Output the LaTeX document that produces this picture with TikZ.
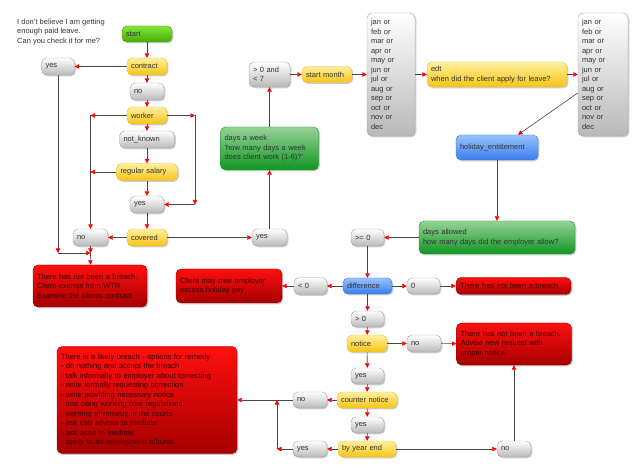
\documentclass[tikz,border=0pt]{standalone}
\usepackage{fontspec}
\setmainfont{Liberation Sans}
\usetikzlibrary{arrows.meta,shadows}
\definecolor{linegrey}{RGB}{70,70,70}
\definecolor{greyedge}{RGB}{165,165,165}
\definecolor{greylow}{RGB}{185,185,185}
\definecolor{amberedge}{RGB}{240,190,60}
\definecolor{ambertop}{RGB}{255,240,160}
\definecolor{amberlow}{RGB}{246,196,20}
\definecolor{limeedge}{RGB}{60,150,0}
\definecolor{limetop}{RGB}{130,230,60}
\definecolor{limelow}{RGB}{70,175,0}
\definecolor{leafedge}{RGB}{20,150,40}
\definecolor{leaftop}{RGB}{150,210,150}
\definecolor{leaflow}{RGB}{15,150,35}
\definecolor{skyedge}{RGB}{50,110,230}
\definecolor{skytop}{RGB}{150,195,255}
\definecolor{skylow}{RGB}{60,125,235}
\definecolor{alarmedge}{RGB}{150,0,0}
\definecolor{alarmtop}{RGB}{255,15,15}
\definecolor{alarmlow}{RGB}{165,0,0}
\tikzset{
  box/.style={draw, rounded corners=5pt, align=left, inner xsep=4pt, inner ysep=2pt,
    font=\fontsize{7.5}{9.5}\selectfont, text=black!80,
    drop shadow={shadow xshift=1.3pt, shadow yshift=-1.3pt, fill=black!40}},
  greybox/.style={box, draw=greyedge, top color=white, bottom color=greylow},
  amberbox/.style={box, draw=amberedge, top color=ambertop, bottom color=amberlow},
  limebox/.style={box, draw=limeedge, top color=limetop, bottom color=limelow},
  leafbox/.style={box, draw=leafedge, top color=leaftop, bottom color=leaflow},
  skybox/.style={box, draw=skyedge, top color=skytop, bottom color=skylow},
  alarmbox/.style={box, draw=alarmedge, top color=alarmtop, bottom color=alarmlow, text=red!25!black},
  conn/.style={draw=linegrey, line width=0.6pt, -{Triangle[length=4.5pt,width=4.5pt,color=red]}}
}
\begin{document}
\begin{tikzpicture}[x=1pt, y=-1pt]
\useasboundingbox (0,0) rectangle (640,470);
\node[anchor=north west, align=left, inner sep=0, text=black!80,
  font=\fontsize{7.5}{9.5}\selectfont] (question) at (17,18.5)
  {I don't believe I am getting\\enough paid leave.\\Can you check it for me?};

% left column
\node[limebox, text width=42pt, minimum height=16pt] (start) at (147,34) {start};
\node[amberbox, text width=32pt, minimum height=17pt] (contract) at (147,66.5) {contract};
\node[greybox, text width=25pt, minimum height=17pt] (yesA) at (58,66.5) {yes};
\node[greybox, text width=26pt, minimum height=17pt] (noA) at (147,91.5) {no};
\node[amberbox, text width=32pt, minimum height=17pt] (worker) at (147,115.5) {worker};
\node[greybox, text width=47pt, minimum height=17pt] (notknown) at (147,139.5) {not\_known};
\node[amberbox, text width=53pt, minimum height=17pt] (regsal) at (147,172) {regular salary};
\node[greybox, text width=26pt, minimum height=17pt] (yesB) at (147,204.5) {yes};
\node[amberbox, text width=32pt, minimum height=17pt] (covered) at (147,237.5) {covered};
\node[greybox, text width=27pt, minimum height=17pt] (noB) at (90.5,237.5) {no};
\node[alarmbox, text width=106pt, minimum height=42pt] (breachA) at (90,286)
  {There has not been a breach.\\Client exempt from WTR\\Examine the clients contract};

% top row
\node[greybox, text width=27pt, minimum height=17pt] (yesC) at (269.5,237.5) {yes};
\node[leafbox, text width=90pt, minimum height=43pt] (daysweek) at (269.5,148.5)
  {days a week\\'how many days a week\\does client work (1-6)?'};
\node[greybox, text width=33pt, minimum height=25pt] (range) at (269.5,74.5) {> 0 and\\< 7};
\node[amberbox, text width=42pt, minimum height=16pt] (startmonth) at (327,74.5) {start month};
\node[greybox, text width=40pt, minimum height=123pt] (monthsA) at (391,74.5)
  {jan or\\feb or\\mar or\\apr or\\may or\\jun or\\jul or\\aug or\\sep or\\oct or\\nov or\\dec};
\node[amberbox, text width=132pt, minimum height=25pt] (edt) at (497,74.5)
  {edt\\when did the client apply for leave?};
\node[greybox, text width=42pt, minimum height=123pt] (monthsB) at (603,74.5)
  {jan or\\feb or\\mar or\\apr or\\may or\\jun or\\jul or\\aug or\\sep or\\oct or\\nov or\\dec};

% right side
\node[skybox, text width=74pt, minimum height=25pt] (holiday) at (497,147.5) {holiday\_entitlement};
\node[leafbox, text width=148pt, minimum height=33pt] (daysallowed) at (497,237.5)
  {days allowed\\how many days did the employer allow?};
\node[greybox, text width=25pt, minimum height=17pt] (geq) at (367.5,237.5) {>= 0};
\node[skybox, text width=41pt, minimum height=16pt] (difference) at (367.5,286) {difference};
\node[greybox, text width=25pt, minimum height=16pt] (zero) at (423.5,286) {0};
\node[alarmbox, text width=107pt, minimum height=17pt] (breachB) at (513.5,286) {There has not been a breach};
\node[greybox, text width=25pt, minimum height=17pt] (lt) at (310.5,286) {< 0};
\node[alarmbox, text width=98pt, minimum height=34pt] (owe) at (229,286)
  {Client may owe employer\\excess holiday pay};

% bottom column
\node[greybox, text width=25pt, minimum height=16pt] (gt) at (367.5,319) {> 0};
\node[amberbox, text width=32pt, minimum height=17pt] (notice) at (367,343.5) {notice};
\node[greybox, text width=26pt, minimum height=17pt] (noC) at (424,343.5) {no};
\node[alarmbox, text width=107pt, minimum height=42pt] (breachC) at (514,344)
  {There has not been a breach.\\Advise new request with\\proper notice.};
\node[greybox, text width=25pt, minimum height=16pt] (yesD) at (367.5,376) {yes};
\node[amberbox, text width=52pt, minimum height=16pt] (counter) at (367,400) {counter notice};
\node[greybox, text width=26pt, minimum height=16pt] (noD) at (310,400) {no};
\node[greybox, text width=25pt, minimum height=16pt] (yesE) at (367.5,425) {yes};
\node[amberbox, text width=50pt, minimum height=16pt] (yearend) at (367,449) {by year end};
\node[greybox, text width=26pt, minimum height=16pt] (yesF) at (310,449) {yes};
\node[greybox, text width=26pt, minimum height=16pt] (noE) at (514,449) {no};
\node[alarmbox, text width=172pt, minimum height=107pt] (remedy) at (147,400)
  {There is a likely breach - options for remedy\\
   - do nothing and accept the breach\\
   - talk informally to employer about correcting\\
   - write formally requesting correction\\
   - write providing necessary notice\\
   \hspace*{4.6pt}and citing working time regulations\\
   \hspace*{4.6pt}warning of remedy in the courts\\
   - ask cab advisor to mediate\\
   - ask acas to mediate\\
   - apply to an employment tribunal};

\coordinate (wl) at (90.5,115.5);
\coordinate (wr) at (195,115.5);
\coordinate (jn) at (90.5,253);
\coordinate (yl) at (277,449);

\draw[conn] (start) -- (contract);
\draw[conn] (contract) -- (yesA);
\draw[conn] (contract) -- (noA);
\draw[conn] (noA) -- (worker);
\draw[conn] (worker) -- (notknown);
\draw[conn] (notknown) -- (regsal);
\draw[conn] (regsal) -- (yesB);
\draw[conn] (yesB) -- (covered);
\draw[conn] (worker) -- (wl);
\draw[conn] (wl) -- (noB);
\draw[conn] (regsal) -- (wl |- regsal);
\draw[conn] (worker) -- (wr);
\draw[conn] (wr) -- (wr |- yesB);
\draw[conn] (wr |- yesB) -- (yesB);
\draw[conn] (covered) -- (noB);
\draw[conn] (yesA) -- (yesA |- jn);
\draw[conn] (yesA |- jn) -- (jn);
\draw[conn] (noB) -- (jn);
\draw[conn] (jn) -- (breachA);
\draw[conn] (covered) -- (yesC);
\draw[conn] (yesC) -- (daysweek);
\draw[conn] (daysweek) -- (range);
\draw[conn] (range) -- (startmonth);
\draw[conn] (startmonth) -- (monthsA);
\draw[conn] (monthsA) -- (edt);
\draw[conn] (edt) -- (monthsB);
\draw[conn] ([yshift=-18.5pt]monthsB.west) -- ([xshift=21pt]holiday.north);
\draw[conn] (holiday) -- (daysallowed);
\draw[conn] (daysallowed) -- (geq);
\draw[conn] (geq) -- (difference);
\draw[conn] (difference) -- (lt);
\draw[conn] (lt) -- (owe);
\draw[conn] (difference) -- (zero);
\draw[conn] (zero) -- (breachB);
\draw[conn] (difference) -- (gt);
\draw[conn] (gt) -- (notice);
\draw[conn] (notice) -- (noC);
\draw[conn] (noC) -- (breachC);
\draw[conn] (notice) -- (yesD);
\draw[conn] (yesD) -- (counter);
\draw[conn] (counter) -- (noD);
\draw[conn] (noD) -- (remedy);
\draw[conn] (counter) -- (yesE);
\draw[conn] (yesE) -- (yearend);
\draw[conn] (yearend) -- (yesF);
\draw[conn] (yesF) -- (yl);
\draw[conn] (yl) -- (yl |- noD);
\draw[conn] (yearend) -- (noE);
\draw[conn] (noE) -- (breachC);
\end{tikzpicture}
\end{document}
